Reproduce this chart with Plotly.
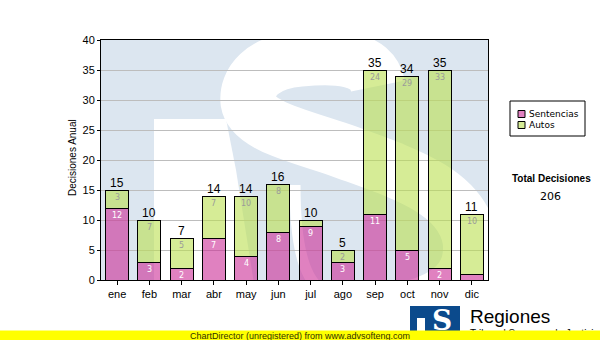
import plotly.graph_objects as go

# --- data ---------------------------------------------------------------
meses = ["ene", "feb", "mar", "abr", "may", "jun", "jul", "ago", "sep", "oct", "nov", "dic"]
sentencias = [12, 3, 2, 7, 4, 8, 9, 3, 11, 5, 2, 1]
autos = [3, 7, 5, 7, 10, 8, 1, 2, 24, 29, 33, 10]
y_ticks = [0, 5, 10, 15, 20, 25, 30, 35, 40]

totales = [s + a for s, a in zip(sentencias, autos)]
total_decisiones = sum(totales)
idx = list(range(len(meses)))

# --- page geometry --------------------------------------------------------
W, H = 600, 340
ML, MR, MT, MB = 101, 112, 40, 60
PW, PH = W - ML - MR, H - MT - MB
Y_MAX = 40
N = len(meses)


def fx(px):
    """page pixel column -> paper x"""
    return (px - ML) / PW


def fy(py):
    """page pixel row -> paper y"""
    return (H - MB - py) / PH


def wm(px, py):
    """page pixel -> data coordinates (used for the background emblem)"""
    x = -0.5 + (px - ML) * N / PW
    y = (H - MB - py) * Y_MAX / PH
    return f"{x:.3f} {y:.3f}"


def wm_path(cmds):
    out = []
    for c, pts in cmds:
        out.append(c + " " + " ".join(wm(*p) for p in pts))
    return " ".join(out)


PINK = "rgba(204,45,150,0.6)"
GREEN = "rgba(187,223,80,0.6)"
PINK_SOLID = "rgb(224,128,192)"
GREEN_SOLID = "rgb(214,236,150)"
WM_BLUE = "#dce6f0"
LOGO_BLUE = "#0b4a8c"
FONT_A = "Liberation Sans, Arial"

fig = go.Figure()
fig.add_trace(go.Bar(
    x=idx, y=sentencias, name="Sentencias",
    marker=dict(color=PINK, line=dict(color="black", width=1)),
    hoverinfo="x+y", showlegend=False,
))
fig.add_trace(go.Bar(
    x=idx, y=autos, name="Autos",
    marker=dict(color=GREEN, line=dict(color="black", width=1)),
    hoverinfo="x+y", showlegend=False,
))

ann = []
# totals above each stack and segment values inside the top of each segment
for i, (s, a, t) in enumerate(zip(sentencias, autos, totales)):
    ann.append(dict(x=i, y=t, xref="x", yref="y", text=str(t), showarrow=False,
                    xanchor="center", yanchor="bottom", yshift=-2,
                    font=dict(family=FONT_A, size=12, color="black")))
    if s >= 2:
        ann.append(dict(x=i, y=s, xref="x", yref="y", text=str(s), showarrow=False,
                        xanchor="center", yanchor="top", yshift=-1,
                        font=dict(family="DejaVu Sans", size=8, color="white")))
    if a >= 2:
        ann.append(dict(x=i, y=s + a, xref="x", yref="y", text=str(a), showarrow=False,
                        xanchor="center", yanchor="top", yshift=-1,
                        font=dict(family="DejaVu Sans", size=8, color="#9a9a9a")))


def page_text(px, py, text, size, family=FONT_A, xanchor="center", **kw):
    ann.append(dict(x=fx(px), y=fy(py), xref="paper", yref="paper", text=text,
                    showarrow=False, xanchor=xanchor, yanchor="middle",
                    font=dict(family=family, size=size, color=kw.pop("color", "black")), **kw))


# axis title
page_text(72, 158, "Decisiones Anual", 10, textangle=-90)

# custom legend
shapes = []
shapes.append(dict(type="rect", xref="paper", yref="paper", x0=fx(510), x1=fx(585),
                   y0=fy(101), y1=fy(136), line=dict(color="black", width=1),
                   fillcolor="white", layer="above"))
for name, col, yc in [("Sentencias", PINK_SOLID, 114), ("Autos", GREEN_SOLID, 125)]:
    shapes.append(dict(type="rect", xref="paper", yref="paper", x0=fx(518), x1=fx(525),
                       y0=fy(yc - 3.5), y1=fy(yc + 3.5), line=dict(color="black", width=1),
                       fillcolor=col, layer="above"))
    page_text(527, yc, name, 9, family="DejaVu Sans", xanchor="left")

page_text(551, 178, "<b>Total Decisiones</b>", 10)
page_text(550, 196, str(total_decisiones), 11, family="DejaVu Sans")

# background emblem: light panel with a white "S" (clipped to the plot area)
shapes.append(dict(type="path", xref="x", yref="y", layer="below",
                   path=wm_path([("M", [(154, 119)]), ("L", [(226, 119)]),
                                 ("L", [(236, 170)]), ("L", [(255, 290)]),
                                 ("L", [(154, 290)])]) + " Z",
                   fillcolor="white", line=dict(width=0)))
shapes.append(dict(type="path", xref="x", yref="y", layer="below",
                   path=wm_path([("M", [(378, 86)]),
                                 ("C", [(372, 56), (335, 56), (300, 59)]),
                                 ("C", [(262, 62), (246, 82), (248, 102)]),
                                 ("C", [(252, 126), (300, 136), (340, 150)]),
                                 ("C", [(400, 172), (462, 190), (470, 240)]),
                                 ("C", [(476, 290), (430, 312), (360, 314)])]),
                   fillcolor="rgba(0,0,0,0)", line=dict(color="white", width=55)))
shapes.append(dict(type="path", xref="x", yref="y", layer="below",
                   path=wm_path([("M", [(360, 305)]),
                                 ("C", [(310, 300), (295, 270), (295, 185)])]),
                   fillcolor="rgba(0,0,0,0)", line=dict(color="white", width=11)))

# logo at the foot of the page
shapes.append(dict(type="rect", xref="paper", yref="paper", x0=fx(410), x1=fx(460),
                   y0=fy(306), y1=fy(345), fillcolor=LOGO_BLUE, line=dict(width=0), layer="above"))
shapes.append(dict(type="rect", xref="paper", yref="paper", x0=fx(417), x1=fx(425),
                   y0=fy(318), y1=fy(345), fillcolor="white", line=dict(width=0), layer="above"))
page_text(442, 320, "<b>S</b>", 28, family="DejaVu Serif", color="white")
page_text(468, 316, "Regiones", 19, xanchor="left")
page_text(468, 333.5, "Tribunal Supremo de Justicia", 10, xanchor="left")
# banner along the bottom edge
ann.append(dict(x=0.5 * (fx(0) + fx(W)), y=fy(335.5), xref="paper", yref="paper",
                text="ChartDirector (unregistered) from www.advsofteng.com",
                showarrow=False, xanchor="center", yanchor="middle",
                width=600, height=9, bgcolor="#ffff00", borderpad=0,
                font=dict(family=FONT_A, size=9, color="#303000")))

fig.update_layout(
    width=W, height=H,
    margin=dict(l=ML, r=MR, t=MT, b=MB, pad=0),
    paper_bgcolor="white", plot_bgcolor=WM_BLUE,
    barmode="stack", bargap=0.287,
    shapes=shapes, annotations=ann,
    showlegend=False,
    xaxis=dict(range=[-0.5, N - 0.5], tickmode="array", tickvals=idx, ticktext=meses,
               showgrid=False, zeroline=False, showline=True, linecolor="black", linewidth=1,
               mirror=True, ticks="outside", ticklen=4, tickcolor="black",
               tickfont=dict(family=FONT_A, size=11, color="black")),
    yaxis=dict(range=[0, Y_MAX], tickmode="array", tickvals=y_ticks,
               showgrid=True, gridcolor="#bdbdbd", gridwidth=1, zeroline=False,
               showline=True, linecolor="black", linewidth=1, mirror=True,
               ticks="outside", ticklen=3, tickcolor="black",
               tickfont=dict(family=FONT_A, size=11, color="black")),
)

fig.write_html("out.html")
